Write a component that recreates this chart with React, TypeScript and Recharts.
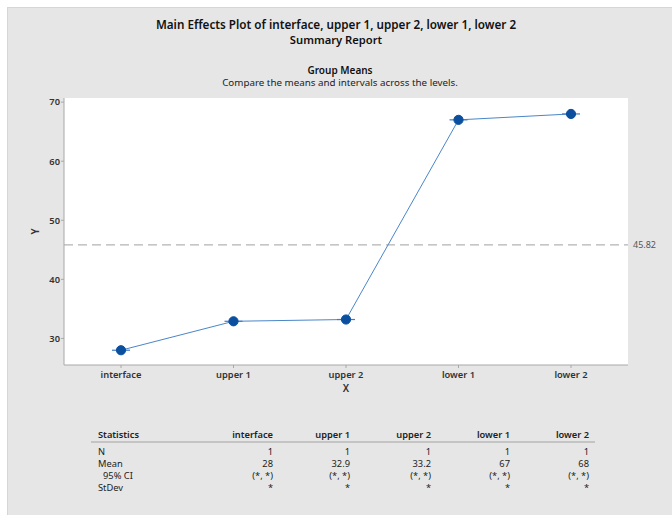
import React from 'react';
import { LineChart, Line, XAxis, YAxis, ReferenceLine, CartesianGrid } from 'recharts';

const categories = ['interface', 'upper 1', 'upper 2', 'lower 1', 'lower 2'];
const means = [28, 32.9, 33.2, 67, 68];
const counts = [1, 1, 1, 1, 1];
const meanLabels = ['28', '32.9', '33.2', '67', '68'];
const ciLabels = ['(*, *)', '(*, *)', '(*, *)', '(*, *)', '(*, *)'];
const stdevLabels = ['*', '*', '*', '*', '*'];
const yTicks = [30, 40, 50, 60, 70];
const overallMean = 45.82;

const data = categories.map((c, i) => ({ name: c, mean: means[i] }));

const FONT = '"Noto Sans", "Open Sans", sans-serif';

const MeanDot = (props: any) => {
  const { cx, cy } = props;
  if (cx == null || cy == null) return null;
  return (
    <g>
      <line x1={cx - 9} x2={cx + 9} y1={cy} y2={cy} stroke="#3f7cc4" strokeWidth={1.2} />
      <circle cx={cx} cy={cy} r={4.6} fill="#0b4f9f" stroke="#0b4f9f" />
    </g>
  );
};

const colRight = [273, 350, 431, 510, 589];

export default function App() {
  const rowStyle: React.CSSProperties = { position: 'absolute', fontSize: 9.3, color: '#222', fontFamily: FONT, whiteSpace: 'nowrap', lineHeight: '11px' };
  const rows = [
    { label: 'N', vals: counts.map(String), y: 446, indent: 0 },
    { label: 'Mean', vals: meanLabels, y: 458, indent: 0 },
    { label: '95% CI', vals: ciLabels, y: 470, indent: 5 },
    { label: 'StDev', vals: stdevLabels, y: 482, indent: 0 },
  ];
  return (
    <div style={{ position: 'fixed', left: 0, top: 0, width: 672, height: 515, background: '#ffffff', overflow: 'hidden' }}>
      <div style={{ position: 'absolute', left: 7, top: 7, width: 665, height: 508, background: '#e6e6e6', borderTop: '1px solid #d6d6d6', borderLeft: '1px solid #d6d6d6' }} />
      <div style={{ position: 'absolute', left: 0, top: 17, width: 672, textAlign: 'center', fontFamily: FONT, fontSize: 11.7, fontWeight: 600, color: '#111', lineHeight: '15px' }}>
        Main Effects Plot of interface, upper 1, upper 2, lower 1, lower 2
      </div>
      <div style={{ position: 'absolute', left: 0, top: 32, width: 672, textAlign: 'center', fontFamily: FONT, fontSize: 11.2, fontWeight: 600, color: '#111', lineHeight: '15px' }}>
        Summary Report
      </div>
      <div style={{ position: 'absolute', left: 4, top: 63, width: 672, textAlign: 'center', fontFamily: FONT, fontSize: 10, fontWeight: 600, color: '#111', lineHeight: '14px' }}>
        Group Means
      </div>
      <div style={{ position: 'absolute', left: 4, top: 76, width: 672, textAlign: 'center', fontFamily: FONT, fontSize: 9.8, color: '#222', lineHeight: '13px' }}>
        Compare the means and intervals across the levels.
      </div>
      <div style={{ position: 'absolute', left: 0, top: 0 }}>
        <LineChart width={672} height={515} data={data} margin={{ top: 98, right: 44, bottom: 110, left: 0 }}>
          <CartesianGrid horizontal={false} vertical={false} fill="#ffffff" />
          <XAxis
            dataKey="name"
            type="category"
            padding={{ left: 57, right: 57 }}
            height={40}
            tickSize={3}
            tickMargin={3}
            axisLine={{ stroke: '#a8a8a8' }}
            tickLine={{ stroke: '#a8a8a8' }}
            tick={{ fontSize: 9.3, fontWeight: 600, fill: '#333', fontFamily: FONT }}
            label={{ value: 'X', position: 'center', dy: 3, fontSize: 10, fontWeight: 600, fill: '#333', fontFamily: FONT }}
          />
          <XAxis xAxisId="top" orientation="top" dataKey="name" height={0} tick={false} tickLine={false} axisLine={{ stroke: '#a8a8a8' }} />
          <YAxis
            type="number"
            domain={[25.5, 70.7]}
            ticks={yTicks}
            allowDataOverflow
            width={64}
            tickSize={3}
            tickMargin={1}
            axisLine={{ stroke: '#a8a8a8' }}
            tickLine={{ stroke: '#a8a8a8' }}
            tick={{ fontSize: 9.3, fontWeight: 600, fill: '#333', fontFamily: FONT }}
            label={{ value: 'Y', angle: -90, position: 'center', dx: 3, fontSize: 10, fontWeight: 600, fill: '#333', fontFamily: FONT }}
          />
          <YAxis yAxisId="right" orientation="right" domain={[25.5, 70.7]} width={0} tick={false} tickLine={false} axisLine={{ stroke: '#a8a8a8' }} />
          <ReferenceLine
            y={overallMean}
            stroke="#b4b4b4"
            strokeWidth={1.3}
            strokeDasharray="9 5"
            label={{ value: String(overallMean), position: 'right', fontSize: 9, fill: '#555', fontFamily: FONT }}
          />
          <Line
            type="linear"
            dataKey="mean"
            stroke="#4a86c8"
            strokeWidth={1}
            dot={<MeanDot />}
            activeDot={false}
            isAnimationActive={false}
          />
        </LineChart>
      </div>
      <div style={{ ...rowStyle, left: 98, top: 429, fontWeight: 600 }}>Statistics</div>
      {categories.map((c, i) => (
        <div key={c} style={{ ...rowStyle, left: colRight[i] - 80, width: 80, textAlign: 'right', top: 429, fontWeight: 600 }}>{c}</div>
      ))}
      <div style={{ position: 'absolute', left: 91, top: 441, width: 504, height: 2, background: '#c4c4c4' }} />
      {rows.map((r) => (
        <React.Fragment key={r.label}>
          <div style={{ ...rowStyle, left: 98 + r.indent, top: r.y }}>{r.label}</div>
          {r.vals.map((v, i) => (
            <div key={i} style={{ ...rowStyle, left: colRight[i] - 80, width: 80, textAlign: 'right', top: r.y }}>{v}</div>
          ))}
        </React.Fragment>
      ))}
    </div>
  );
}
